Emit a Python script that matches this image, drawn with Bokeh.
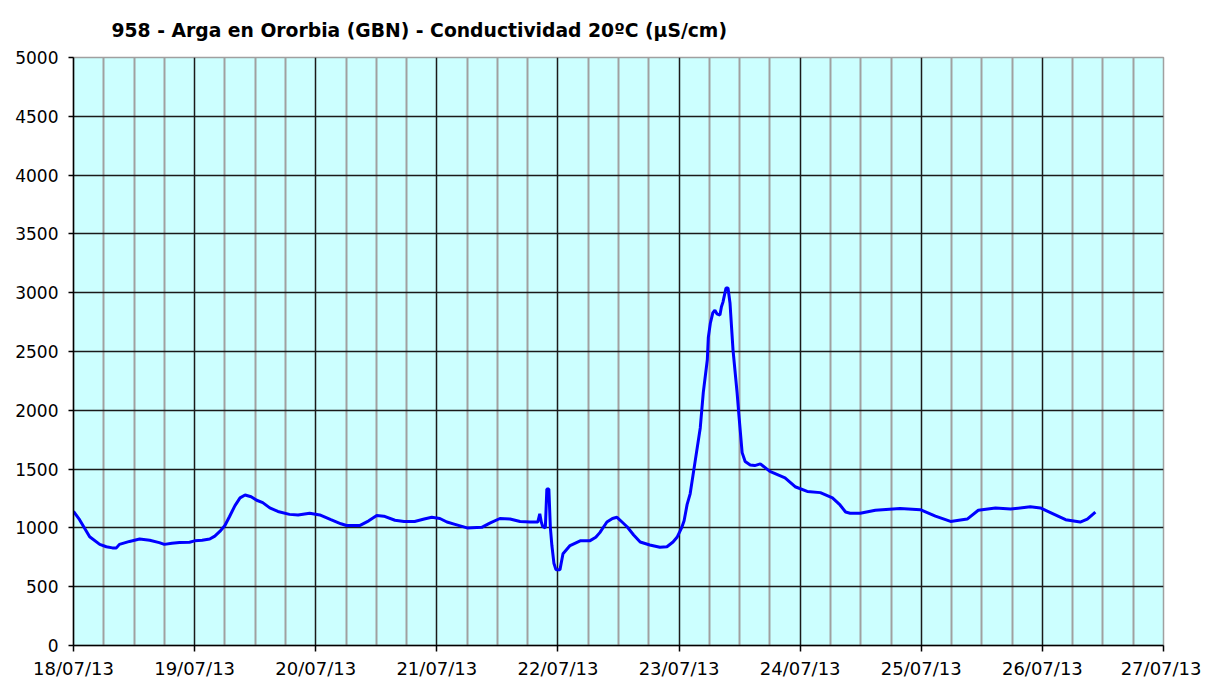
from datetime import datetime, timedelta
from bokeh.plotting import figure
from bokeh.models import Range1d, FixedTicker, DatetimeTickFormatter, Grid, ColumnDataSource
from bokeh.embed import file_html
from bokeh.resources import INLINE

title_text = "958 - Arga en Ororbia (GBN) - Conductividad 20ºC (µS/cm)"
start = datetime(2013, 7, 18)
n_days = 9

# hours since 18/07/13 00:00
hours = [0.0, 1.2, 3.2, 5.2, 6.5, 7.7, 8.5, 9.1, 11.1, 13.1, 15.1, 17.0, 18.0, 19.5, 21.0, 23.0,
         24.0, 25.5, 27.0, 28.0, 29.0, 30.0, 30.9, 32.0, 33.0, 34.0, 35.2, 36.3, 37.5, 38.9,
         40.5, 42.8, 44.5, 46.8, 48.8, 51.0, 53.0, 54.1, 56.7, 58.5, 60.1, 61.5, 63.7, 65.5,
         67.6, 69.5, 71.0, 72.6, 74.0, 75.6, 78.0, 80.9, 82.5, 84.5, 86.5, 88.5, 90.5, 92.0,
         92.4, 92.7, 93.0, 93.5, 93.8, 94.2, 94.5, 94.8, 95.2, 95.6, 96.4, 97.0, 98.4, 100.4,
         102.3, 103.5, 104.3, 105.7, 106.8, 107.7, 108.7, 109.7, 111.0, 112.3, 114.2, 116.2,
         117.6, 118.8, 119.6, 120.5, 121.0, 121.6, 122.2, 123.2, 124.2, 124.8, 125.6, 125.8,
         126.2, 126.7, 127.1, 127.5, 128.1, 128.4, 128.7, 129.3, 129.7, 130.1, 130.7, 131.5,
         131.9, 132.5, 133.1, 134.1, 135.0, 136.1, 138.0, 141.0, 143.0, 145.4, 148.0, 150.4,
         151.9, 153.0, 153.9, 155.9, 158.9, 163.8, 167.8, 170.8, 173.8, 177.1, 179.3, 182.7,
         185.7, 189.6, 191.6, 193.6, 196.6, 199.5, 200.9, 202.5]
conductividad = [1140, 1070, 925, 860, 840, 830, 830, 860, 885, 905, 895, 875, 860, 870, 875, 878,
                 890, 895, 905, 930, 970, 1020, 1095, 1190, 1255, 1280, 1265, 1235, 1215, 1170,
                 1140, 1115, 1110, 1125, 1110, 1070, 1035, 1020, 1020, 1060, 1105, 1100, 1065, 1055,
                 1055, 1075, 1090, 1080, 1050, 1030, 1000, 1005, 1040, 1080, 1075, 1055, 1050, 1050,
                 1120, 1050, 1010, 1000, 1330, 1330, 1000, 850, 700, 645, 645, 780, 850, 890,
                 890, 920, 960, 1050, 1080, 1090, 1050, 1010, 940, 880, 855, 835,
                 840, 880, 920, 1000, 1060, 1200, 1290, 1570, 1850, 2150, 2430, 2620,
                 2740, 2830, 2850, 2820, 2810, 2880, 2920, 3040, 3040, 2910, 2510, 2150,
                 1940, 1640, 1565, 1535, 1530, 1545, 1480, 1425, 1350, 1310, 1300, 1255,
                 1195, 1135, 1125, 1125, 1150, 1165, 1155, 1100, 1055, 1075, 1150, 1170,
                 1160, 1180, 1170, 1130, 1070, 1050, 1075, 1135]
y_ticks = [0, 500, 1000, 1500, 2000, 2500, 3000, 3500, 4000, 4500, 5000]

EPOCH = datetime(1970, 1, 1)


def to_ms(d):
    return (d - EPOCH).total_seconds() * 1000.0


times = [start + timedelta(hours=h) for h in hours]
day_ms = [to_ms(start + timedelta(days=i)) for i in range(n_days + 1)]
six_h_ms = [to_ms(start + timedelta(hours=6 * i)) for i in range(n_days * 4 + 1) if i % 4 != 0]

src = ColumnDataSource(data=dict(t=times, v=conductividad))

p = figure(frame_width=1090, frame_height=588, x_axis_type="datetime",
           min_border_left=73, min_border_top=57, min_border_right=38, min_border_bottom=28,
           x_range=Range1d(start, start + timedelta(days=n_days)),
           y_range=Range1d(0, 5000),
           output_backend="svg", toolbar_location=None,
           background_fill_color="#CCFFFF", border_fill_color="white")

p.title.text = title_text
p.title.text_font = "DejaVu Sans"
p.title.text_font_style = "bold"
p.title.text_font_size = "18.75px"
p.title.text_color = "black"
p.title.align = "left"
p.title.offset = 38
p.title.standoff = 34

p.outline_line_color = "#a0a0a0"
p.outline_line_width = 1.5

p.xgrid.visible = False
p.ygrid.visible = False

minor_grid = Grid(dimension=0, ticker=FixedTicker(ticks=six_h_ms),
                  grid_line_color="#a0a0a0", grid_line_width=2)
hgrid = Grid(dimension=1, ticker=FixedTicker(ticks=y_ticks[1:-1]),
             grid_line_color="#1a1a1a", grid_line_width=1.5)
vgrid = Grid(dimension=0, ticker=FixedTicker(ticks=day_ms[1:-1]),
             grid_line_color="#1a1a1a", grid_line_width=1.5)
p.add_layout(minor_grid)
p.add_layout(hgrid)
p.add_layout(vgrid)

p.line("t", "v", source=src, line_color="#0000FF", line_width=3)

fmt = "%d/%m/%y"
p.xaxis.ticker = FixedTicker(ticks=day_ms)
p.xaxis.formatter = DatetimeTickFormatter(milliseconds=fmt, seconds=fmt, minsec=fmt, minutes=fmt,
                                          hourmin=fmt, hours=fmt, days=fmt, months=fmt, years=fmt)
p.yaxis.ticker = FixedTicker(ticks=y_ticks)

for ax in (p.xaxis, p.yaxis):
    ax.axis_line_color = "black"
    ax.axis_line_width = 1.5
    ax.major_tick_line_color = "black"
    ax.major_tick_line_width = 1.5
    ax.major_tick_in = 0
    ax.minor_tick_line_color = None
    ax.major_label_text_font = "DejaVu Sans"
    ax.major_label_text_color = "black"

p.xaxis.major_label_text_font_size = "18px"
p.yaxis.major_label_text_font_size = "17px"
p.xaxis.major_tick_out = 6
p.xaxis.major_label_standoff = 6
p.yaxis.major_tick_out = 5
p.yaxis.major_label_standoff = 10

open("out.html", "w").write(file_html(p, INLINE))
